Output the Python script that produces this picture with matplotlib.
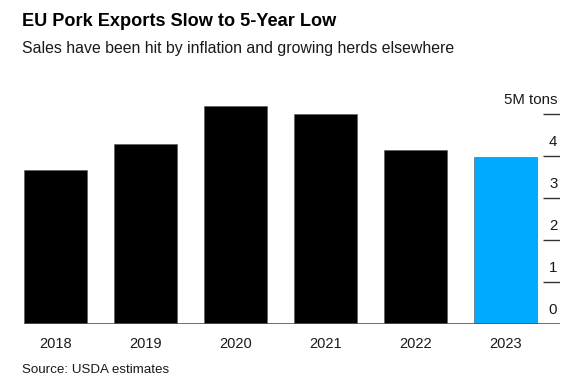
import matplotlib.pyplot as plt
import numpy as np

plt.rcParams['font.family'] = ['Liberation Sans', 'DejaVu Sans']

# data (million tons)
years = ['2018', '2019', '2020', '2021', '2022', '2023']
exports = [3.68, 4.28, 5.19, 5.00, 4.14, 3.97]
bar_colors = ['#000000'] * 5 + ['#00AAFF']
ytick_vals = [0, 1, 2, 3, 4, 5]
ytick_labels = ['0', '1', '2', '3', '4', '5M tons']

fig = plt.figure(figsize=(5.75, 3.81), dpi=100)
ax = fig.add_axes([24 / 575, 0.1488, (560 - 24) / 575, 0.585])

x = np.arange(len(years))
ax.bar(x, exports, width=0.7, color=bar_colors, edgecolor='#555555', linewidth=0.4, zorder=2)

ax.set_xlim(-0.35, 5.61)
ax.set_ylim(0, 5.3)

# short gridline stubs on the right with labels above them
for v, lab in zip(ytick_vals, ytick_labels):
    if v > 0:
        ax.hlines(v, 5.42, 5.61, color='#333333', linewidth=1.0, zorder=1)
    ax.annotate(lab, xy=(5.61, v), xytext=(-2, 5), textcoords='offset points',
                ha='right', va='bottom', fontsize=10.8, color='#1a1a1a')

ax.axhline(0, color='#555555', linewidth=1.2, zorder=3)

ax.set_xticks(x)
ax.set_xticklabels(years, fontsize=10.5, color='#1a1a1a')
ax.tick_params(axis='x', length=0, pad=9)
ax.set_yticks([])
for s in ax.spines.values():
    s.set_visible(False)

fig.text(22 / 575, 1 - 22 / 381, 'EU Pork Exports Slow to 5-Year Low', fontsize=13.1,
         fontweight='bold', va='center', ha='left', color='#000000')
fig.text(22 / 575, 1 - 48 / 381, 'Sales have been hit by inflation and growing herds elsewhere',
         fontsize=11.4, va='center', ha='left', color='#1a1a1a')
fig.text(22 / 575, 1 - 370 / 381, 'Source: USDA estimates', fontsize=9.6,
         va='center', ha='left', color='#1a1a1a')

fig.savefig('out.png', dpi=100)
